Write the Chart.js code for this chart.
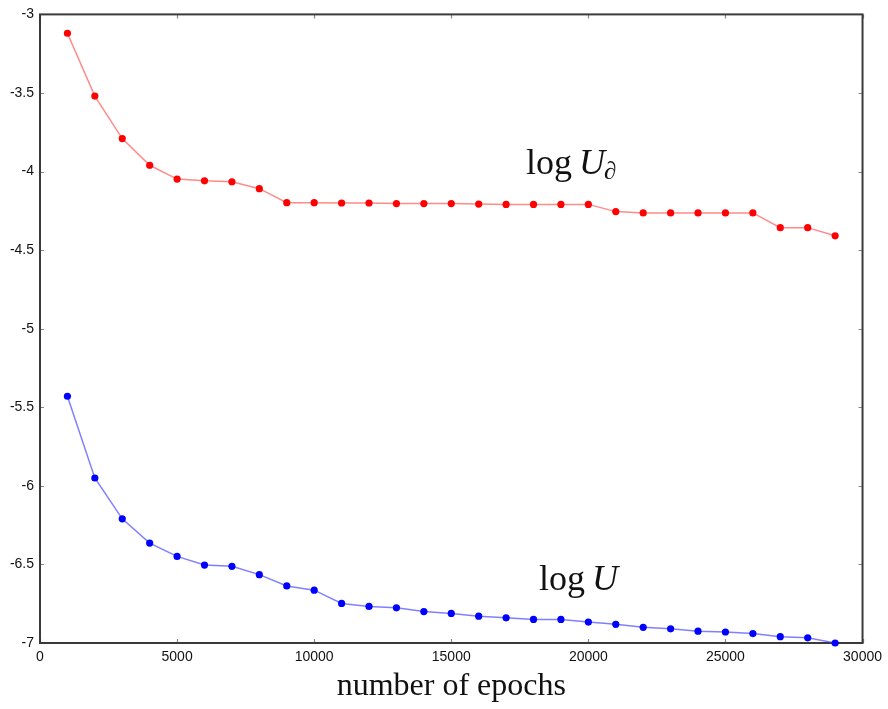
<!DOCTYPE html>
<html>
<head>
<meta charset="utf-8">
<script src="https://cdn.jsdelivr.net/npm/chart.js@4"></script>
<style>
  html, body { margin: 0; padding: 0; background: #fff; }
  #wrap { width: 888px; height: 709px; }
</style>
</head>
<body>
<div id="wrap"><canvas id="c" width="888" height="709"></canvas></div>
<script>
// ---- data ----
const epochs = [1000, 2000, 3000, 4000, 5000, 6000, 7000, 8000, 9000, 10000,
  11000, 12000, 13000, 14000, 15000, 16000, 17000, 18000, 19000, 20000,
  21000, 22000, 23000, 24000, 25000, 26000, 27000, 28000, 29000];
const logUBoundary = [-3.12, -3.52, -3.79, -3.96, -4.048, -4.059, -4.065, -4.109, -4.198, -4.198,
  -4.200, -4.200, -4.204, -4.204, -4.204, -4.207, -4.209, -4.209, -4.209, -4.209,
  -4.255, -4.263, -4.263, -4.263, -4.263, -4.263, -4.357, -4.357, -4.409];
const logU = [-5.43, -5.95, -6.21, -6.364, -6.449, -6.504, -6.512, -6.565, -6.637, -6.664,
  -6.748, -6.767, -6.776, -6.80, -6.812, -6.829, -6.840, -6.850, -6.850, -6.867,
  -6.881, -6.90, -6.91, -6.925, -6.93, -6.94, -6.96, -6.967, -7.0];
const xTicks = [0, 5000, 10000, 15000, 20000, 25000, 30000];
const yTicks = [-7, -6.5, -6, -5.5, -5, -4.5, -4, -3.5, -3];
const xTitle = 'number of epochs';
const labelBoundary = { main: 'log', sym: 'U', sub: '∂', x: 17730, y: -4.014 };
const labelU = { main: 'log', sym: 'U', x: 18200, y: -6.664 };

const toXY = (ys) => epochs.map((x, i) => ({ x: x, y: ys[i] }));

const framePlugin = {
  id: 'frame',
  beforeDatasetsDraw(chart) {
    const { ctx, chartArea: a, scales } = chart;
    ctx.save();
    // inward tick marks on all four sides
    ctx.strokeStyle = '#888';
    ctx.lineWidth = 1.2;
    const len = 4;
    xTicks.forEach(v => {
      const px = Math.round(scales.x.getPixelForValue(v)) + 0.5;
      ctx.beginPath();
      ctx.moveTo(px, a.bottom); ctx.lineTo(px, a.bottom - len);
      ctx.moveTo(px, a.top); ctx.lineTo(px, a.top + len);
      ctx.stroke();
    });
    yTicks.forEach(v => {
      const py = Math.round(scales.y.getPixelForValue(v)) + 0.5;
      ctx.beginPath();
      ctx.moveTo(a.left, py); ctx.lineTo(a.left + len, py);
      ctx.moveTo(a.right, py); ctx.lineTo(a.right - len, py);
      ctx.stroke();
    });
    // frame
    ctx.strokeStyle = '#3a3a3a';
    ctx.lineWidth = 2;
    ctx.strokeRect(a.left, a.top, a.right - a.left, a.bottom - a.top);
    ctx.restore();
  },
  afterDraw(chart) {
    const { ctx, chartArea: a, scales } = chart;
    ctx.save();
    ctx.fillStyle = '#111';
    ctx.textBaseline = 'alphabetic';
    // x axis title
    ctx.font = '32px "Liberation Serif", "DejaVu Serif", serif';
    ctx.textAlign = 'center';
    ctx.fillText(xTitle, (a.left + a.right) / 2, 695);
    // curve labels
    ctx.textAlign = 'left';
    const drawLabel = (lab) => {
      let x = scales.x.getPixelForValue(lab.x);
      const y = scales.y.getPixelForValue(lab.y);
      ctx.font = '36px "Liberation Serif", serif';
      ctx.fillText(lab.main, x, y);
      x += ctx.measureText(lab.main).width + 7;
      ctx.font = 'italic 36px "Liberation Serif", serif';
      ctx.fillText(lab.sym, x, y);
      x += ctx.measureText(lab.sym).width - 1;
      if (lab.sub) {
        ctx.font = 'italic 25px "Liberation Serif", "DejaVu Serif", serif';
        ctx.fillText(lab.sub, x, y + 5);
      }
    };
    drawLabel(labelBoundary);
    drawLabel(labelU);
    ctx.restore();
  }
};

const tickFont = { family: '"Liberation Sans", Arial, Helvetica, sans-serif', size: 14 };

new Chart(document.getElementById('c'), {
  type: 'line',
  data: {
    datasets: [
      {
        data: toXY(logUBoundary),
        borderColor: 'rgba(255, 60, 60, 0.6)',
        borderWidth: 1.5,
        pointBackgroundColor: '#ff0000',
        pointBorderColor: '#ff0000',
        pointRadius: 3.6,
        pointBorderWidth: 0,
        tension: 0
      },
      {
        data: toXY(logU),
        borderColor: 'rgba(60, 60, 255, 0.65)',
        borderWidth: 1.5,
        pointBackgroundColor: '#0000ff',
        pointBorderColor: '#0000ff',
        pointRadius: 3.6,
        pointBorderWidth: 0,
        tension: 0
      }
    ]
  },
  options: {
    responsive: false,
    devicePixelRatio: 1,
    animation: false,
    clip: false,
    layout: { padding: { top: 12, right: 24, left: 0, bottom: 0 } },
    plugins: { legend: { display: false }, tooltip: { enabled: false } },
    scales: {
      x: {
        type: 'linear',
        min: 0, max: 30000,
        afterBuildTicks: (s) => { s.ticks = xTicks.map(v => ({ value: v })); },
        afterFit: (s) => { s.height = 66; },
        grid: { display: false, drawTicks: false },
        border: { display: false },
        ticks: { font: tickFont, color: '#111', padding: 6, maxRotation: 0, autoSkip: false,
                 callback: (v) => String(v) }
      },
      y: {
        type: 'linear',
        min: -7, max: -3,
        afterBuildTicks: (s) => { s.ticks = yTicks.map(v => ({ value: v })); },
        afterFit: (s) => { s.width = 40; },
        grid: { display: false, drawTicks: false },
        border: { display: false },
        ticks: { font: tickFont, color: '#111', padding: 6, autoSkip: false,
                 callback: (v) => String(v) }
      }
    }
  },
  plugins: [framePlugin]
});
</script>
</body>
</html>
